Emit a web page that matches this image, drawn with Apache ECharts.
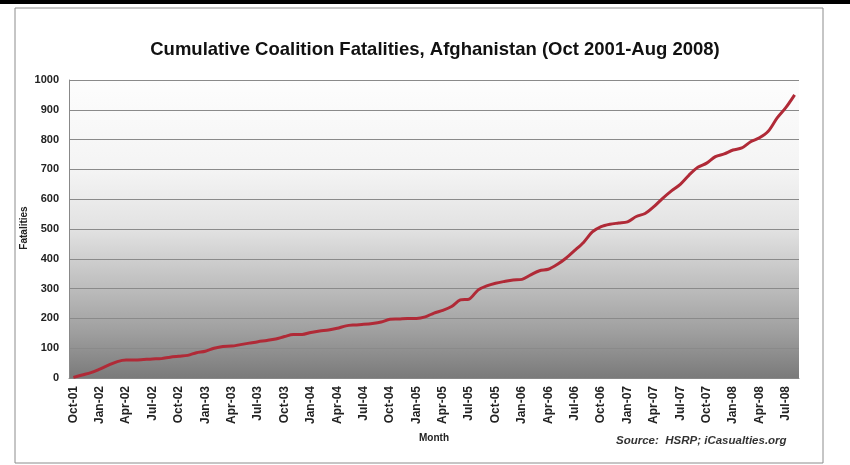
<!DOCTYPE html>
<html>
<head>
<meta charset="utf-8">
<script src="https://cdn.jsdelivr.net/npm/echarts@6/dist/echarts.min.js"></script>
<style>
html,body{margin:0;padding:0;background:#fff;}
#c{width:850px;height:465px;}
</style>
</head>
<body>
<div id="c"></div>
<script>
var titleText = 'Cumulative Coalition Fatalities, Afghanistan (Oct 2001-Aug 2008)';
var months = ['Oct-01','Nov-01','Dec-01',
  'Jan-02','Feb-02','Mar-02','Apr-02','May-02','Jun-02','Jul-02','Aug-02','Sep-02','Oct-02','Nov-02','Dec-02',
  'Jan-03','Feb-03','Mar-03','Apr-03','May-03','Jun-03','Jul-03','Aug-03','Sep-03','Oct-03','Nov-03','Dec-03',
  'Jan-04','Feb-04','Mar-04','Apr-04','May-04','Jun-04','Jul-04','Aug-04','Sep-04','Oct-04','Nov-04','Dec-04',
  'Jan-05','Feb-05','Mar-05','Apr-05','May-05','Jun-05','Jul-05','Aug-05','Sep-05','Oct-05','Nov-05','Dec-05',
  'Jan-06','Feb-06','Mar-06','Apr-06','May-06','Jun-06','Jul-06','Aug-06','Sep-06','Oct-06','Nov-06','Dec-06',
  'Jan-07','Feb-07','Mar-07','Apr-07','May-07','Jun-07','Jul-07','Aug-07','Sep-07','Oct-07','Nov-07','Dec-07',
  'Jan-08','Feb-08','Mar-08','Apr-08','May-08','Jun-08','Jul-08','Aug-08'];
var fatalities = [2,10,18,
  30,43,55,60,60,62,64,65,70,73,76,85,
  90,100,106,107,112,117,122,126,131,139,146,146,
  153,158,161,167,175,178,180,183,188,197,198,200,
  200,205,218,227,240,262,265,295,309,318,324,329,
  331,346,360,365,381,402,428,455,490,508,516,520,
  524,542,552,575,603,628,650,681,707,721,743,752,
  765,772,793,806,828,872,907,950];
var yTicks = [0,100,200,300,400,500,600,700,800,900,1000];
var yAxisName = 'Fatalities';
var sourceText = 'Source:  HSRP; iCasualties.org';

var chart = echarts.init(document.getElementById('c'), null, {renderer:'canvas'});
var font = 'Liberation Sans, Arial, sans-serif';
chart.setOption({
  backgroundColor: '#ffffff',
  animation: false,
  title: {
    text: titleText,
    left: 430, top: 35, textAlign: 'center',
    textStyle: {fontFamily: font, fontSize: 18.5, fontWeight: 'bold', color: '#111'}
  },
  grid: {
    left: 69, right: 51, top: 80, bottom: 87,
    show: true, borderWidth: 0,
    backgroundColor: {
      type: 'linear', x: 0, y: 0, x2: 0, y2: 1,
      colorStops: [
        {offset: 0, color: '#fdfdfd'},
        {offset: 0.3, color: '#f4f4f4'},
        {offset: 0.5, color: '#e2e2e2'},
        {offset: 0.7, color: '#bcbcbc'},
        {offset: 0.85, color: '#9e9e9e'},
        {offset: 1, color: '#7a7a7a'}
      ]
    }
  },
  xAxis: {
    type: 'category',
    data: months,
    boundaryGap: true,
    name: 'Month',
    nameLocation: 'middle',
    nameGap: 55,
    nameTextStyle: {fontFamily: font, fontSize: 10, fontWeight: 'bold', color: '#222'},
    axisLine: {show: true, lineStyle: {color: '#888', width: 1}},
    axisTick: {show: false},
    axisLabel: {
      interval: 2, rotate: 90, margin: 8,
      fontFamily: font, fontSize: 12, fontWeight: 'bold', color: '#222'
    },
    splitLine: {show: false}
  },
  yAxis: {
    type: 'value',
    min: 0, max: 1000, interval: 100,
    axisLine: {show: true, lineStyle: {color: '#888', width: 1}},
    axisTick: {show: false},
    axisLabel: {
      margin: 10,
      fontFamily: font, fontSize: 11, fontWeight: 'bold', color: '#222',
      formatter: function (v) { return yTicks.indexOf(v) >= 0 ? String(v) : ''; }
    },
    splitLine: {show: true, lineStyle: {color: '#8a8a8a', width: 1}}
  },
  series: [{
    type: 'line',
    data: fatalities,
    smooth: 0.3,
    symbol: 'none',
    lineStyle: {color: '#b02a37', width: 3},
    z: 5
  }],
  graphic: [
    {type: 'rect', shape: {x: 0, y: 0, width: 850, height: 4}, style: {fill: '#000'}, z: 10},
    {type: 'rect', shape: {x: 15, y: 8, width: 808, height: 455}, style: {fill: 'none', stroke: '#8c8c8c', lineWidth: 1}, z: 10},
    {type: 'text', x: 24, y: 228, rotation: Math.PI / 2,
     style: {text: yAxisName, font: 'bold 10px Liberation Sans, Arial, sans-serif', fill: '#222',
             textAlign: 'center', textVerticalAlign: 'middle'}, z: 10},
    {type: 'text', left: 616, top: 435,
     style: {text: sourceText, font: 'italic bold 11.5px Liberation Sans, Arial, sans-serif', fill: '#333'}, z: 10}
  ]
});
</script>
</body>
</html>
